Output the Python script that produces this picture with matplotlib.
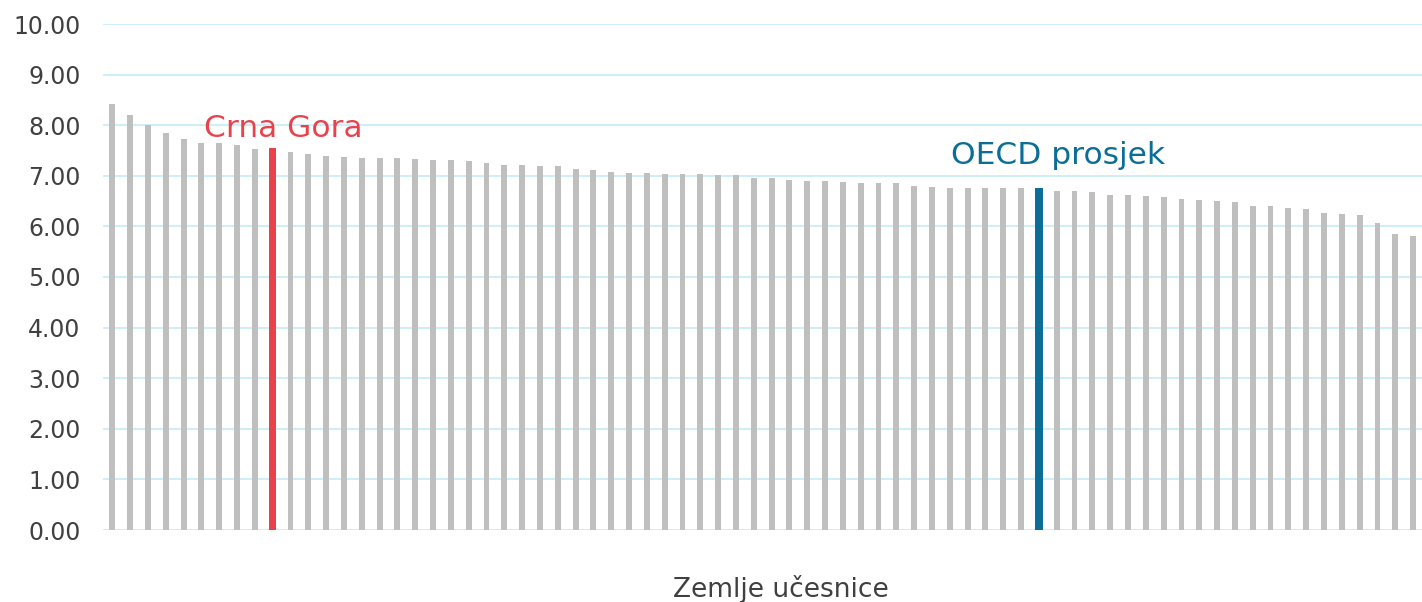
import matplotlib
matplotlib.use("Agg")
import matplotlib.pyplot as plt
from matplotlib.ticker import FormatStrFormatter

values = [8.41, 8.20, 8.01, 7.85, 7.72, 7.65, 7.64, 7.61, 7.52, 7.54,
          7.47, 7.43, 7.40, 7.38, 7.36, 7.35, 7.35, 7.34, 7.32, 7.31,
          7.29, 7.25, 7.22, 7.21, 7.19, 7.19, 7.13, 7.11, 7.07, 7.06,
          7.05, 7.04, 7.04, 7.04, 7.02, 7.01, 6.96, 6.96, 6.91, 6.90,
          6.90, 6.88, 6.85, 6.85, 6.85, 6.80, 6.77, 6.76, 6.76, 6.75,
          6.75, 6.75, 6.76, 6.69, 6.69, 6.67, 6.63, 6.62, 6.60, 6.58,
          6.54, 6.52, 6.50, 6.48, 6.40, 6.40, 6.36, 6.35, 6.26, 6.25,
          6.23, 6.07, 5.85, 5.82]
highlight_mne = 9
highlight_oecd = 52
label_mne = "Crna Gora"
label_oecd = "OECD prosjek"
xlabel = "Zemlje učesnice"
yticks = [0, 1, 2, 3, 4, 5, 6, 7, 8, 9, 10]

GRAY = "#BFBFBF"
RED = "#E8434C"
BLUE = "#0B6E96"
GRID = "#CDEEF9"
TXT = "#404040"

fig = plt.figure(figsize=(14.22, 6.02), dpi=100)
ax = fig.add_axes([103.4 / 1422, 72 / 602, (1422 - 103.4) / 1422, 506 / 602])

x = list(range(len(values)))
colors = [GRAY] * len(values)
widths = [0.33] * len(values)
colors[highlight_mne] = RED
colors[highlight_oecd] = BLUE
widths[highlight_mne] = 0.42
widths[highlight_oecd] = 0.42
ax.bar(x, values, width=widths, color=colors, zorder=3)

ax.set_xlim(-0.5, len(values) - 0.5)
ax.set_ylim(0, 10)
ax.set_yticks(yticks)
ax.yaxis.set_major_formatter(FormatStrFormatter("%.2f"))
ax.set_xticks([])
ax.grid(axis="y", color=GRID, linewidth=1.4, zorder=0)
for s in ax.spines.values():
    s.set_visible(False)
ax.tick_params(axis="y", length=0, pad=16.5, labelsize=17, labelcolor=TXT)

ax.text(9.6, 7.77, label_mne, color=RED, fontsize=22.5, ha="center", va="baseline", zorder=4)
ax.text(53.05, 7.23, label_oecd, color=BLUE, fontsize=22.5, ha="center", va="baseline", zorder=4)

fig.text(780.7 / 1422, 5 / 602, xlabel, color=TXT, fontsize=19, ha="center", va="baseline")

fig.savefig("out.png", dpi=100, facecolor="white")
